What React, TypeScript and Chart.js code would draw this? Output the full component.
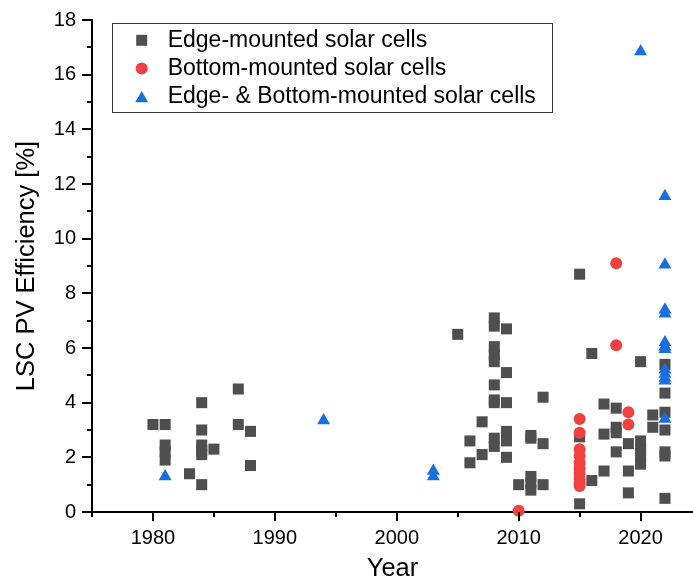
import React, { useEffect, useRef } from 'react';
import { Chart, registerables } from 'chart.js';

Chart.register(...registerables);

const FONT = '"Liberation Sans", Arial, Helvetica, sans-serif';

// ---- tick labels ----
const X_TICK_LABELS = [1980, 1990, 2000, 2010, 2020];
const X_MINOR_TICKS = [1975, 1985, 1995, 2005, 2015];
const Y_TICK_LABELS = [0, 2, 4, 6, 8, 10, 12, 14, 16, 18];
const Y_MINOR_TICKS = [1, 3, 5, 7, 9, 11, 13, 15, 17];

// ---- series labels ----
const SERIES_LABELS = [
  'Edge-mounted solar cells',
  'Bottom-mounted solar cells',
  'Edge- & Bottom-mounted solar cells',
];

// ---- Edge-mounted solar cells ----
const EDGE_YEARS = [
  1980, 1981, 1981, 1981, 1981, 1983, 1984, 1984, 1984, 1984, 1984, 1984, 1985,
  1987, 1987, 1988, 1988, 2005, 2006, 2006, 2007, 2007,
  2008, 2008, 2008, 2008, 2008, 2008, 2008, 2008, 2008, 2008,
  2009, 2009, 2009, 2009, 2009, 2009, 2009, 2010, 2011, 2011, 2011, 2011, 2011,
  2012, 2012, 2012, 2015, 2015, 2015, 2016, 2016, 2017, 2017, 2017,
  2018, 2018, 2018, 2018, 2019, 2019, 2019, 2020, 2020, 2020, 2020, 2020,
  2021, 2021, 2022, 2022, 2022, 2022, 2022, 2022, 2022,
];
const EDGE_VALUES = [
  3.2, 3.2, 2.45, 2.2, 1.9, 1.4, 4.0, 3.0, 2.45, 2.25, 2.1, 1.0, 2.3,
  4.5, 3.2, 2.95, 1.7, 6.5, 2.6, 1.8, 3.3, 2.1,
  7.1, 6.8, 6.05, 5.75, 5.5, 4.65, 4.1, 4.0, 2.7, 2.4,
  6.7, 5.1, 4.0, 2.95, 2.75, 2.6, 2.0, 1.0, 2.8, 2.7, 1.3, 1.05, 0.8,
  4.2, 2.5, 1.0, 8.7, 2.75, 0.3, 5.8, 1.15, 3.95, 2.85, 1.5,
  3.8, 3.1, 2.9, 2.2, 2.5, 1.5, 0.7, 5.5, 2.6, 2.3, 2.05, 1.75,
  3.55, 3.1, 5.4, 4.35, 3.65, 3.0, 2.2, 2.05, 0.5,
];

// ---- Bottom-mounted solar cells ----
const BOTTOM_YEARS = [2010, 2015, 2015, 2015, 2015, 2015, 2015, 2015, 2015, 2015, 2015, 2018, 2018, 2019, 2019];
const BOTTOM_VALUES = [0.05, 3.4, 2.9, 2.3, 2.05, 1.8, 1.6, 1.4, 1.2, 1.05, 0.95, 9.1, 6.1, 3.65, 3.2];

// ---- Edge- & Bottom-mounted solar cells ----
const BOTH_YEARS = [1981, 1994, 2003, 2003, 2020, 2022, 2022, 2022, 2022, 2022, 2022, 2022, 2022, 2022, 2022, 2022, 2022];
const BOTH_VALUES = [1.3, 3.35, 1.5, 1.3, 16.85, 11.55, 9.05, 7.4, 7.25, 6.2, 6.05, 5.95, 5.2, 5.05, 4.9, 4.8, 3.4];

const COLORS = ['#4f4f4f', '#f04040', '#1a6fdf'];

const toPoints = (xs: number[], ys: number[]) => xs.map((x, i) => ({ x, y: ys[i] }));

const axisTicksPlugin = {
  id: 'axisTicks',
  afterDraw(chart: any) {
    const { ctx, chartArea, scales } = chart;
    const x = scales.x;
    const y = scales.y;
    ctx.save();
    ctx.strokeStyle = '#000';
    ctx.lineWidth = 2;
    const major = 9;
    const minor = 5;
    const bottom = chartArea.bottom;
    const left = chartArea.left;
    const drawX = (v: number, len: number) => {
      const px = Math.round(x.getPixelForValue(v));
      ctx.beginPath();
      ctx.moveTo(px, bottom);
      ctx.lineTo(px, bottom + len);
      ctx.stroke();
    };
    const drawY = (v: number, len: number) => {
      const py = Math.round(y.getPixelForValue(v));
      ctx.beginPath();
      ctx.moveTo(left, py);
      ctx.lineTo(left - len, py);
      ctx.stroke();
    };
    X_TICK_LABELS.forEach((v) => drawX(v, major));
    X_MINOR_TICKS.forEach((v) => drawX(v, minor));
    Y_TICK_LABELS.forEach((v) => drawY(v, major + 1));
    Y_MINOR_TICKS.forEach((v) => drawY(v, minor));
    ctx.restore();
  },
};

const legendBoxPlugin = {
  id: 'legendBox',
  afterDraw(chart: any) {
    const { ctx } = chart;
    const boxL = 112.5, boxT = 23.5, boxW = 440, boxH = 89;
    ctx.save();
    ctx.strokeStyle = '#333';
    ctx.lineWidth = 1;
    ctx.strokeRect(boxL, boxT, boxW, boxH);
    const rows = [40.3, 68.5, 96.7];
    const mx = 141.7;
    ctx.font = `23px ${FONT}`;
    ctx.textBaseline = 'middle';
    ctx.textAlign = 'left';
    SERIES_LABELS.forEach((label, i) => {
      const cy = rows[i];
      ctx.fillStyle = COLORS[i];
      ctx.beginPath();
      if (i === 0) {
        ctx.rect(mx - 5.5, cy - 5.5, 11, 11);
      } else if (i === 1) {
        ctx.arc(mx, cy, 6, 0, Math.PI * 2);
      } else {
        const r = 7.5;
        const c = cy + r / 4;
        ctx.moveTo(mx, c - r);
        ctx.lineTo(mx + r * Math.sin((2 * Math.PI) / 3), c + r / 2);
        ctx.lineTo(mx - r * Math.sin((2 * Math.PI) / 3), c + r / 2);
        ctx.closePath();
      }
      ctx.fill();
      ctx.fillStyle = '#000';
      ctx.fillText(label, 167.7, cy);
    });
    ctx.restore();
  },
};

export default function App() {
  const ref = useRef<HTMLCanvasElement | null>(null);

  useEffect(() => {
    if (!ref.current) return;
    const chart = new Chart(ref.current, {
      type: 'scatter',
      data: {
        datasets: [
          {
            label: SERIES_LABELS[0],
            data: toPoints(EDGE_YEARS, EDGE_VALUES),
            pointStyle: 'rect',
            pointRadius: 7.8,
            pointHoverRadius: 7.8,
            backgroundColor: COLORS[0],
            borderWidth: 0,
            order: 3,
            clip: false,
          },
          {
            label: SERIES_LABELS[1],
            data: toPoints(BOTTOM_YEARS, BOTTOM_VALUES),
            pointStyle: 'circle',
            pointRadius: 6,
            pointHoverRadius: 6,
            backgroundColor: COLORS[1],
            borderWidth: 0,
            order: 2,
            clip: false,
          },
          {
            label: SERIES_LABELS[2],
            data: toPoints(BOTH_YEARS, BOTH_VALUES),
            pointStyle: 'triangle',
            pointRadius: 7.5,
            pointHoverRadius: 7.5,
            backgroundColor: COLORS[2],
            borderWidth: 0,
            order: 1,
            clip: false,
          },
        ] as any,
      },
      options: {
        animation: false,
        responsive: false,
        maintainAspectRatio: false,
        layout: { autoPadding: false, padding: { top: 20, right: 0, left: 0, bottom: 0 } },
        plugins: {
          legend: { display: false },
          tooltip: { enabled: false },
        },
        scales: {
          x: {
            type: 'linear',
            min: 1975,
            max: 2024.3,
            afterFit: (s: any) => {
              s.height = 70;
              s.paddingLeft = 0;
              s.paddingRight = 0;
            },
            afterBuildTicks: (s: any) => {
              s.ticks = X_TICK_LABELS.map((v) => ({ value: v }));
            },
            grid: { display: false, drawTicks: false },
            border: { display: true, color: '#000', width: 2 },
            ticks: {
              color: '#000',
              padding: 14,
              maxRotation: 0,
              font: { family: FONT, size: 20 },
              callback: (v: any) => String(v),
            },
            title: {
              display: true,
              text: 'Year',
              color: '#000',
              font: { family: FONT, size: 25.5, lineHeight: 1 },
              padding: { top: 0, bottom: 0 },
            },
          },
          y: {
            type: 'linear',
            min: 0,
            max: 18,
            afterFit: (s: any) => {
              s.width = 92;
              s.paddingTop = 0;
              s.paddingBottom = 0;
            },
            afterBuildTicks: (s: any) => {
              s.ticks = Y_TICK_LABELS.map((v) => ({ value: v }));
            },
            grid: { display: false, drawTicks: false },
            border: { display: true, color: '#000', width: 2 },
            ticks: {
              color: '#000',
              padding: 16,
              font: { family: FONT, size: 20 },
              callback: (v: any) => String(v),
            },
            title: {
              display: true,
              text: 'LSC PV Efficiency [%]',
              color: '#000',
              font: { family: FONT, size: 25.5, lineHeight: 1 },
              padding: { top: 14.5, bottom: 0 },
            },
          },
        },
      },
      plugins: [axisTicksPlugin, legendBoxPlugin],
    });
    return () => chart.destroy();
  }, []);

  return (
    <div style={{ position: 'absolute', left: 0, top: 0, width: 693, height: 582, background: '#fff' }}>
      <canvas ref={ref} width={693} height={582} style={{ display: 'block', width: 693, height: 582 }} />
    </div>
  );
}
